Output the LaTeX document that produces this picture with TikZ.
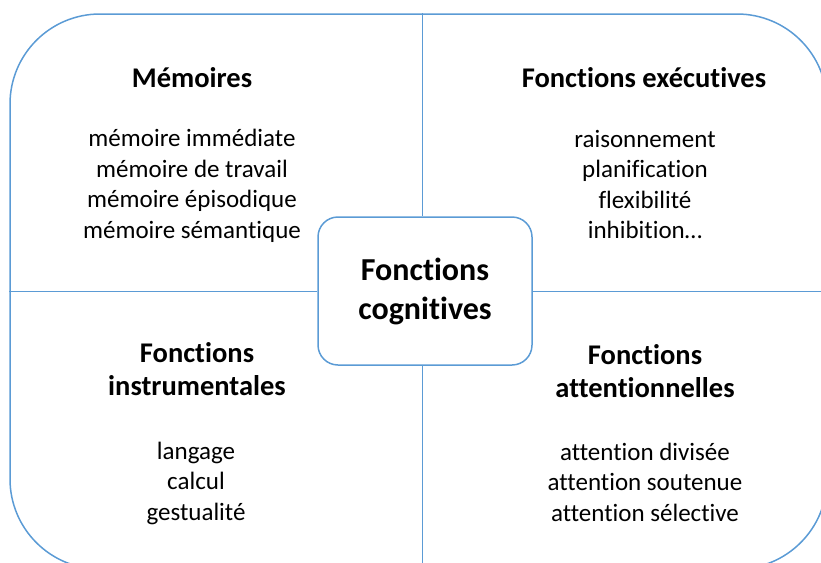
\documentclass[tikz,border=0pt]{standalone}
\usepackage{fontspec}
\setmainfont{Carlito}[Ligatures={NoCommon,NoRequired,NoContextual}]
\usetikzlibrary{positioning}
\definecolor{mblue}{RGB}{91,155,213}
\tikzset{
    frame/.style = {draw=mblue, line width=1.5pt, rounded corners=90pt,
                    minimum width=817pt, minimum height=555pt},
    core/.style = {draw=mblue, line width=1.5pt, rounded corners=20pt,
                   minimum width=214pt, minimum height=148pt, align=center,
                   font=\fontsize{32}{39}\selectfont\bfseries},
    divider/.style = {draw=mblue, line width=1pt},
    heading/.style = {align=center, inner sep=0pt,
                      font=\fontsize{28.5}{33}\selectfont\bfseries},
    items/.style = {align=center, inner sep=0pt,
                    font=\fontsize{25}{30.5}\selectfont}
    }
\begin{document}
\begin{tikzpicture}[x=1pt, y=-1pt]
\useasboundingbox (0,0) rectangle (821,562);
\clip (0,0) rectangle (821,562);
\node [frame] (frame) at (418.5,291.5) {};
\node [core] (core) at (425,291) {Fonctions\\cognitives};
\coordinate (axis) at (422,291);
% dividers
\draw [divider] (frame.north -| axis) -- (core.north -| axis);
\draw [divider] (core.south -| axis) -- (frame.south -| axis);
\draw [divider] (frame.west |- axis) -- (core.west |- axis);
\draw [divider] (core.east |- axis) -- (frame.east |- axis);
% quadrants
\node [heading] (mem) at (192,78) {Mémoires};
\node [items] (memlist) at (192,186) {mémoire immédiate\\mémoire de travail\\mémoire épisodique\\mémoire sémantique};
\node [heading] (exec) at (644,78) {Fonctions exécutives};
\node [items] (execlist) at (645,184.5) {raisonnement\\planification\\flexibilité\\inhibition…};
\node [heading] (instr) at (197,369.5) {Fonctions\\instrumentales};
\node [items] (instrlist) at (196,483) {langage\\calcul\\gestualité};
\node [heading] (attn) at (645,371.5) {Fonctions\\attentionnelles};
\node [items] (attnlist) at (645,482) {attention divisée\\attention soutenue\\attention sélective};
\end{tikzpicture}
\end{document}
